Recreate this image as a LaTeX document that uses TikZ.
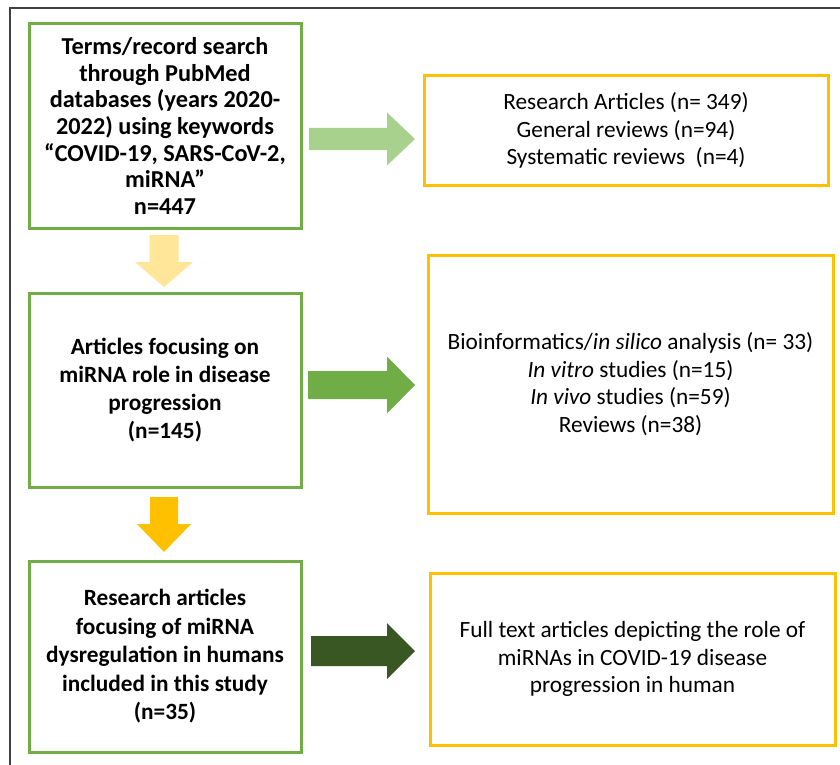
\documentclass[tikz,border=0pt]{standalone}
\usepackage{fontspec}
\setmainfont{Carlito}
\usetikzlibrary{calc}
\definecolor{boxgreen}{HTML}{70AD47}
\definecolor{lightgreen}{HTML}{A9D18E}
\definecolor{darkgreen}{HTML}{385723}
\definecolor{boxyellow}{HTML}{FFC000}
\definecolor{lightyellow}{HTML}{FFE699}
\definecolor{framegray}{HTML}{404040}
% right-pointing block arrow: start, end, shaft half width, head half width, head length, colour
\newcommand\blockR[6]{%
  \fill[#6] let \p1=(#1), \p2=(#2) in
    (\x1,\y1+#3) -- (\x2-#5,\y1+#3) -- (\x2-#5,\y1+#4) -- (\x2,\y1)
    -- (\x2-#5,\y1-#4) -- (\x2-#5,\y1-#3) -- (\x1,\y1-#3) -- cycle;}
% down-pointing block arrow
\newcommand\blockD[6]{%
  \fill[#6] let \p1=(#1), \p2=(#2) in
    (\x1-#3,\y1) -- (\x1-#3,\y2+#5) -- (\x1-#4,\y2+#5) -- (\x1,\y2)
    -- (\x1+#4,\y2+#5) -- (\x1+#3,\y2+#5) -- (\x1+#3,\y1) -- cycle;}
\begin{document}
\begin{tikzpicture}[x=1pt,y=-1pt,
  leftbox/.style={draw=boxgreen, line width=3pt, minimum width=272pt, inner sep=0pt,
    align=center, font=\fontsize{23.3}{28}\selectfont\bfseries},
  rightbox/.style={draw=boxyellow, line width=3pt, minimum width=405pt, inner sep=0pt,
    align=center, font=\fontsize{23.3}{27.5}\selectfont}]
\useasboundingbox (0,0) rectangle (840,765);
\fill[white] (0,0) rectangle (840,765);
\draw[framegray, line width=1.5pt] (10,765) -- (10,8) -- (840,8);

\node[leftbox, minimum height=204pt, font=\fontsize{24.3}{26.7}\selectfont\bfseries] (b1) at (165,126)
  {Terms/record search\\through PubMed\\databases (years 2020-\\2022) using keywords\\“COVID-19, SARS-CoV-2,\\miRNA”\\n=447};
\node[leftbox, minimum height=194pt] (b2) at (165,390)
  {Articles focusing on\\miRNA role in disease\\progression\\(n=145)};
\node[leftbox, minimum height=191pt, font=\fontsize{23.3}{28.5}\selectfont\bfseries] (b3) at (165,656.5)
  {Research articles\\focusing of miRNA\\dysregulation in humans\\included in this study\\(n=35)};

\node[rightbox, minimum width=404pt, minimum height=109pt] (y1) at (626,130.5)
  {Research Articles (n= 349)\\General reviews (n=94)\\Systematic reviews \ (n=4)};
\node[rightbox, minimum height=258pt] (y2) at (630.5,384)
  {Bioinformatics/\textit{in silico} analysis (n= 33)\\\textit{In vitro} studies (n=15)\\\textit{In vivo} studies (n=59)\\Reviews (n=38)};
\node[rightbox, minimum height=172pt] (y3) at (632.5,659)
  {Full text articles depicting the role of\\miRNAs in COVID-19 disease\\progression in human};

\coordinate (a1s) at (309,139);  \coordinate (a1e) at (415,139);
\coordinate (a2s) at (308,385);  \coordinate (a2e) at (415,385);
\coordinate (a3s) at (311,651);  \coordinate (a3e) at (415,651);
\coordinate (d1s) at (164,235);  \coordinate (d1e) at (164,287);
\coordinate (d2s) at (164,497);  \coordinate (d2e) at (164,552);

\blockR{a1s}{a1e}{11pt}{26.5pt}{28pt}{lightgreen}
\blockR{a2s}{a2e}{14pt}{28.5pt}{28pt}{boxgreen}
\blockR{a3s}{a3e}{15pt}{28pt}{28pt}{darkgreen}
\blockD{d1s}{d1e}{14.5pt}{29pt}{25pt}{lightyellow}
\blockD{d2s}{d2e}{14pt}{27pt}{28pt}{boxyellow}
\end{tikzpicture}
\end{document}
